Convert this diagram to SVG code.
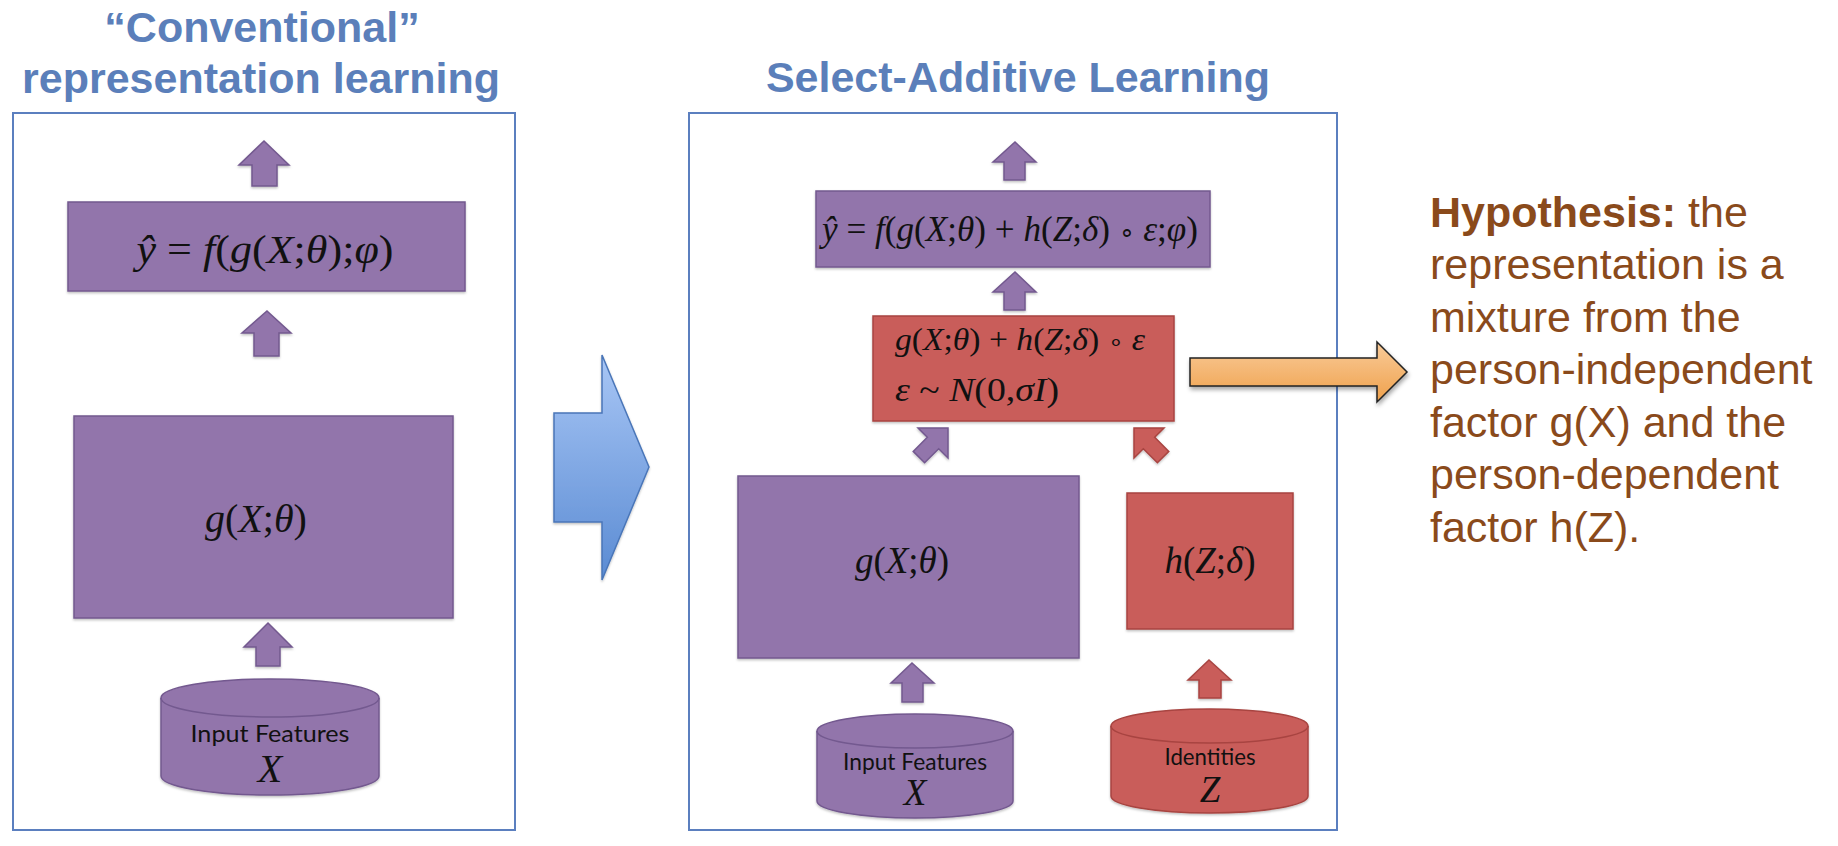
<svg xmlns="http://www.w3.org/2000/svg" width="1838" height="846" viewBox="0 0 1838 846">
<defs>
<style>
.title{font-family:"Liberation Sans",Arial,sans-serif;font-weight:bold;font-size:43px;fill:#5b7fba;text-anchor:middle}
.frame{fill:#fff;stroke:#5b7fbf;stroke-width:2}
.pur{fill:#9274ab;stroke:#73598f;stroke-width:1.5}
.red{fill:#c95d5a;stroke:#a84441;stroke-width:1.5}
.math{font-family:"Liberation Serif","Times New Roman",serif;fill:#111;text-anchor:middle}
.it{font-style:italic}
.cyl{font-family:Lato,"Liberation Sans",sans-serif;fill:#111;text-anchor:middle;font-size:23px}
.hyp{font-family:"Liberation Sans",Arial,sans-serif;font-size:43px;fill:#8a4a1b}
</style>
<linearGradient id="gBlue" x1="0" y1="0" x2="0" y2="1">
<stop offset="0" stop-color="#a8c6f5"/><stop offset="1" stop-color="#5a8bd3"/>
</linearGradient>
<linearGradient id="gOrange" x1="0" y1="0" x2="0" y2="1">
<stop offset="0" stop-color="#f9cb99"/><stop offset="1" stop-color="#efa14c"/>
</linearGradient>
<filter id="sh" x="-20%" y="-20%" width="140%" height="150%">
<feDropShadow dx="1" dy="3" stdDeviation="2" flood-color="#000" flood-opacity="0.35"/>
</filter>
<filter id="shl" x="-10%" y="-10%" width="120%" height="130%">
<feDropShadow dx="0" dy="1.5" stdDeviation="1.2" flood-color="#000" flood-opacity="0.25"/>
</filter>
</defs>
<rect width="1838" height="846" fill="#fff"/>

<g id="title-left">
<text class="title" x="262" y="42">“Conventional”</text>
<text class="title" x="261" y="93">representation learning</text>
</g>
<g id="title-right">
<text class="title" x="1018" y="92">Select-Additive Learning</text>
</g>

<g id="frame-left"><rect class="frame" x="13" y="113" width="502" height="717"/></g>
<g id="frame-right"><rect class="frame" x="689" y="113" width="648" height="717"/></g>

<g id="connectors">
<path class="pur" filter="url(#shl)" d="M264,141 L289,165 L277,165 L277,186 L252,186 L252,165 L239,165 Z"/>
<path class="pur" filter="url(#shl)" d="M267,311 L291,333 L279,333 L279,356 L254,356 L254,333 L242,333 Z"/>
<path class="pur" filter="url(#shl)" d="M268,623 L292,647 L280,647 L280,666 L256,666 L256,647 L244,647 Z"/>
<path class="pur" filter="url(#shl)" d="M1015,142 L1036,162 L1025,162 L1025,180 L1004,180 L1004,162 L993,162 Z"/>
<path class="pur" filter="url(#shl)" d="M1015,272 L1036,292 L1025,292 L1025,310 L1004,310 L1004,292 L993,292 Z"/>
<path class="pur" filter="url(#shl)" d="M912,663 L934,683 L923,683 L923,702 L902,702 L902,683 L891,683 Z"/>
<path class="red" filter="url(#shl)" d="M1209,660 L1231,680 L1221,680 L1221,698 L1199,698 L1199,680 L1188,680 Z"/>
<path class="pur" filter="url(#shl)" d="M948,428 L948,458 L938.7,448.7 L924.6,462.8 L913.2,451.4 L927.3,437.3 L918,428 Z"/>
<path class="red" filter="url(#shl)" d="M1134,428 L1134,458 L1143.3,448.7 L1157.4,462.8 L1168.8,451.4 L1154.7,437.3 L1164,428 Z"/>
<path id="big-arrow" fill="url(#gBlue)" stroke="#4a76b8" stroke-width="1.5" filter="url(#shl)" d="M554,413 L602,413 L602,355 L649,467 L602,580 L602,522 L554,522 Z"/>
<path id="hyp-arrow" fill="url(#gOrange)" stroke="#222" stroke-width="1.5" filter="url(#sh)" d="M1190,358 L1377,358 L1377,342 L1407,372 L1377,402 L1377,386 L1190,386 Z"/>
</g>

<g id="node-yhat-left">
<rect class="pur" filter="url(#shl)" x="68" y="202" width="397" height="89"/>
<text class="math" x="265" y="263" font-size="40" textLength="257" lengthAdjust="spacingAndGlyphs"><tspan class="it">ŷ</tspan> = <tspan class="it">f</tspan>(<tspan class="it">g</tspan>(<tspan class="it">X</tspan>;<tspan class="it">θ</tspan>);<tspan class="it">φ</tspan>)</text>
</g>
<g id="node-g-left">
<rect class="pur" filter="url(#shl)" x="74" y="416" width="379" height="202"/>
<text class="math" x="256" y="532" font-size="40"><tspan class="it">g</tspan>(<tspan class="it">X</tspan>;<tspan class="it">θ</tspan>)</text>
</g>
<g id="node-input-left">
<path class="pur" filter="url(#shl)" d="M161,698 A109,19 0 0 1 379,698 V776 A109,19 0 0 1 161,776 Z"/>
<path fill="none" stroke="#73598f" stroke-width="1.5" d="M161,698 A109,19 0 0 0 379,698"/>
<text class="cyl" x="270" y="742" textLength="159" lengthAdjust="spacingAndGlyphs">Input Features</text>
<text class="math it" x="270" y="782" font-size="40">X</text>
</g>

<g id="node-yhat-right">
<rect class="pur" filter="url(#shl)" x="816" y="191" width="394" height="76"/>
<text class="math" x="1010" y="241" font-size="36" textLength="376" lengthAdjust="spacingAndGlyphs"><tspan class="it">ŷ</tspan> = <tspan class="it">f</tspan>(<tspan class="it">g</tspan>(<tspan class="it">X</tspan>;<tspan class="it">θ</tspan>) + <tspan class="it">h</tspan>(<tspan class="it">Z</tspan>;<tspan class="it">δ</tspan>) <tspan font-size="26">∘</tspan> <tspan class="it">ε</tspan>;<tspan class="it">φ</tspan>)</text>
</g>
<g id="node-mix">
<rect class="red" filter="url(#shl)" x="873" y="316" width="301" height="105"/>
<text class="math" x="1020" y="350" font-size="32" textLength="250" lengthAdjust="spacingAndGlyphs"><tspan class="it">g</tspan>(<tspan class="it">X</tspan>;<tspan class="it">θ</tspan>) + <tspan class="it">h</tspan>(<tspan class="it">Z</tspan>;<tspan class="it">δ</tspan>) <tspan font-size="24">∘</tspan> <tspan class="it">ε</tspan></text>
<text class="math" x="977" y="401" font-size="33" textLength="164" lengthAdjust="spacingAndGlyphs"><tspan class="it">ε</tspan> ~ <tspan class="it">N</tspan>(0,<tspan class="it">σI</tspan>)</text>
</g>
<g id="node-g-right">
<rect class="pur" filter="url(#shl)" x="738" y="476" width="341" height="182"/>
<text class="math" x="902" y="573" font-size="37"><tspan class="it">g</tspan>(<tspan class="it">X</tspan>;<tspan class="it">θ</tspan>)</text>
</g>
<g id="node-h">
<rect class="red" filter="url(#shl)" x="1127" y="493" width="166" height="136"/>
<text class="math" x="1210" y="573" font-size="37"><tspan class="it">h</tspan>(<tspan class="it">Z</tspan>;<tspan class="it">δ</tspan>)</text>
</g>
<g id="node-input-right">
<path class="pur" filter="url(#shl)" d="M817,731 A98,17 0 0 1 1013,731 V801 A98,17 0 0 1 817,801 Z"/>
<path fill="none" stroke="#73598f" stroke-width="1.5" d="M817,731 A98,17 0 0 0 1013,731"/>
<text class="cyl" x="915" y="770" font-size="21" textLength="144" lengthAdjust="spacingAndGlyphs">Input Features</text>
<text class="math it" x="915" y="805" font-size="37">X</text>
</g>
<g id="node-identities">
<path class="red" filter="url(#shl)" d="M1111,726 A98.5,17 0 0 1 1308,726 V796 A98.5,17 0 0 1 1111,796 Z"/>
<path fill="none" stroke="#a84441" stroke-width="1.5" d="M1111,726 A98.5,17 0 0 0 1308,726"/>
<text class="cyl" x="1210" y="765" font-size="21" textLength="91" lengthAdjust="spacingAndGlyphs">Identities</text>
<text class="math it" x="1210" y="802" font-size="37">Z</text>
</g>

<g id="hypothesis">
<text class="hyp" x="1430" y="227"><tspan font-weight="bold">Hypothesis:</tspan> the</text>
<text class="hyp" x="1430" y="279">representation is a</text>
<text class="hyp" x="1430" y="332">mixture from the</text>
<text class="hyp" x="1430" y="384">person-independent</text>
<text class="hyp" x="1430" y="437">factor g(X) and the</text>
<text class="hyp" x="1430" y="489">person-dependent</text>
<text class="hyp" x="1430" y="542">factor h(Z).</text>
</g>
</svg>
